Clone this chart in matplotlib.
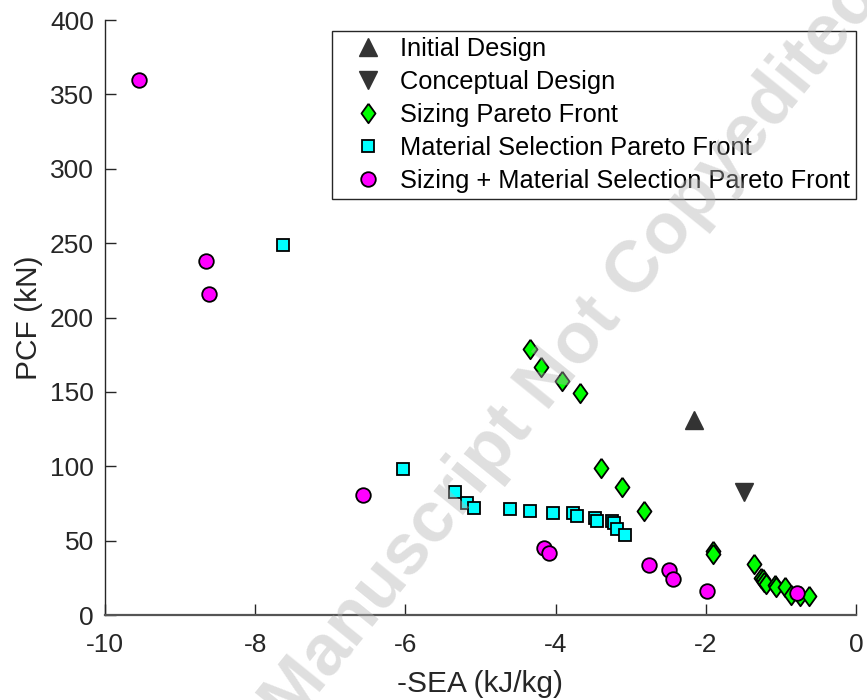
import numpy as np
import matplotlib
matplotlib.use("Agg")
import matplotlib.pyplot as plt

plt.rcParams["font.family"] = ["Liberation Sans", "DejaVu Sans"]
plt.rcParams["axes.unicode_minus"] = False

# Initial / conceptual designs
init_x = [-2.16]
init_y = [131]
concept_x = [-1.49]
concept_y = [83]

# Sizing Pareto front
sizing_x = [-4.34, -4.19, -3.91, -3.68, -3.39, -3.12, -2.82, -1.91, -1.90,
            -1.36, -1.26, -1.24, -1.22, -1.20, -1.08, -1.06, -0.95, -0.87,
            -0.75, -0.62]
sizing_y = [179, 167, 157, 149, 99, 86, 70, 43, 41,
            34, 25, 24, 22.5, 21, 20, 19, 19, 13.5,
            13, 13]

# Material selection Pareto front
mat_x = [-7.63, -6.03, -5.34, -5.18, -5.09, -4.61, -4.34, -4.04, -3.77,
         -3.72, -3.47, -3.45, -3.25, -3.22, -3.18, -3.08]
mat_y = [249, 98, 83, 75.5, 72, 71, 70, 68.5, 68.5,
         66.5, 65, 63.5, 63, 62, 58, 54]

# Sizing + material selection Pareto front
both_x = [-9.55, -8.65, -8.61, -6.56, -4.15, -4.09, -2.75, -2.49, -2.43,
          -1.98, -0.79]
both_y = [360, 238, 216, 81, 45, 42, 33.5, 30, 24, 16, 14.5]

fig = plt.figure(figsize=(8.67, 7.0), dpi=100)
ax = fig.add_axes([0.1211, 0.1214, 0.8662, 0.85])

dark = (0.2, 0.2, 0.2)
diamond = [(0, 1), (0.72, 0), (0, -1), (-0.72, 0), (0, 1)]

ax.plot(init_x, init_y, linestyle="none", marker="^", ms=13, mfc=dark,
        mec=dark, label="Initial Design")
ax.plot(concept_x, concept_y, linestyle="none", marker="v", ms=13, mfc=dark,
        mec=dark, label="Conceptual Design")
ax.plot(sizing_x, sizing_y, linestyle="none", marker=diamond, ms=14,
        mfc="#00ff00", mec="black", mew=1.3, label="Sizing Pareto Front")
ax.plot(mat_x, mat_y, linestyle="none", marker="s", ms=8.5, mfc="#00ffff",
        mec="black", mew=1.3, label="Material Selection Pareto Front")
ax.plot(both_x, both_y, linestyle="none", marker="o", ms=10.5, mfc="#ff00ff",
        mec="black", mew=1.3, label="Sizing + Material Selection Pareto Front")

ax.set_xlim(-10, 0)
ax.set_ylim(0, 400)
ax.set_xticks([-10, -8, -6, -4, -2, 0])
ax.set_yticks(np.arange(0, 401, 50))

for side in ["top", "right"]:
    ax.spines[side].set_visible(False)
ax.spines["left"].set_color("#262626")
ax.spines["bottom"].set_color("#555555")
ax.spines["left"].set_linewidth(1.0)
ax.spines["bottom"].set_linewidth(1.6)

ax.tick_params(direction="in", length=8, width=1.0, colors="#262626",
               labelsize=19)
ax.tick_params(axis="x", pad=13)
ax.tick_params(axis="y", pad=8)
ax.set_xlabel("-SEA (kJ/kg)", fontsize=21.5, color="#262626", labelpad=9)
ax.set_ylabel("PCF (kN)", fontsize=21.5, color="#262626", labelpad=5)

leg = ax.legend(loc="upper right", bbox_to_anchor=(856 / 867, 669 / 700),
                bbox_transform=fig.transFigure, borderaxespad=0,
                fontsize=18.3, frameon=True, fancybox=False,
                edgecolor="#262626", framealpha=1, handletextpad=0.1,
                labelspacing=0.35, borderpad=0.25, handlelength=2.3)
leg.get_frame().set_linewidth(1.0)

# watermark
fig.text(0.66, 0.5, "Manuscript Not Copyedited", fontsize=52,
         fontweight="bold", color=(0.7, 0.7, 0.7), alpha=0.42,
         rotation=51, ha="center", va="center", rotation_mode="anchor",
         zorder=10)

fig.savefig("out.png", dpi=100)
